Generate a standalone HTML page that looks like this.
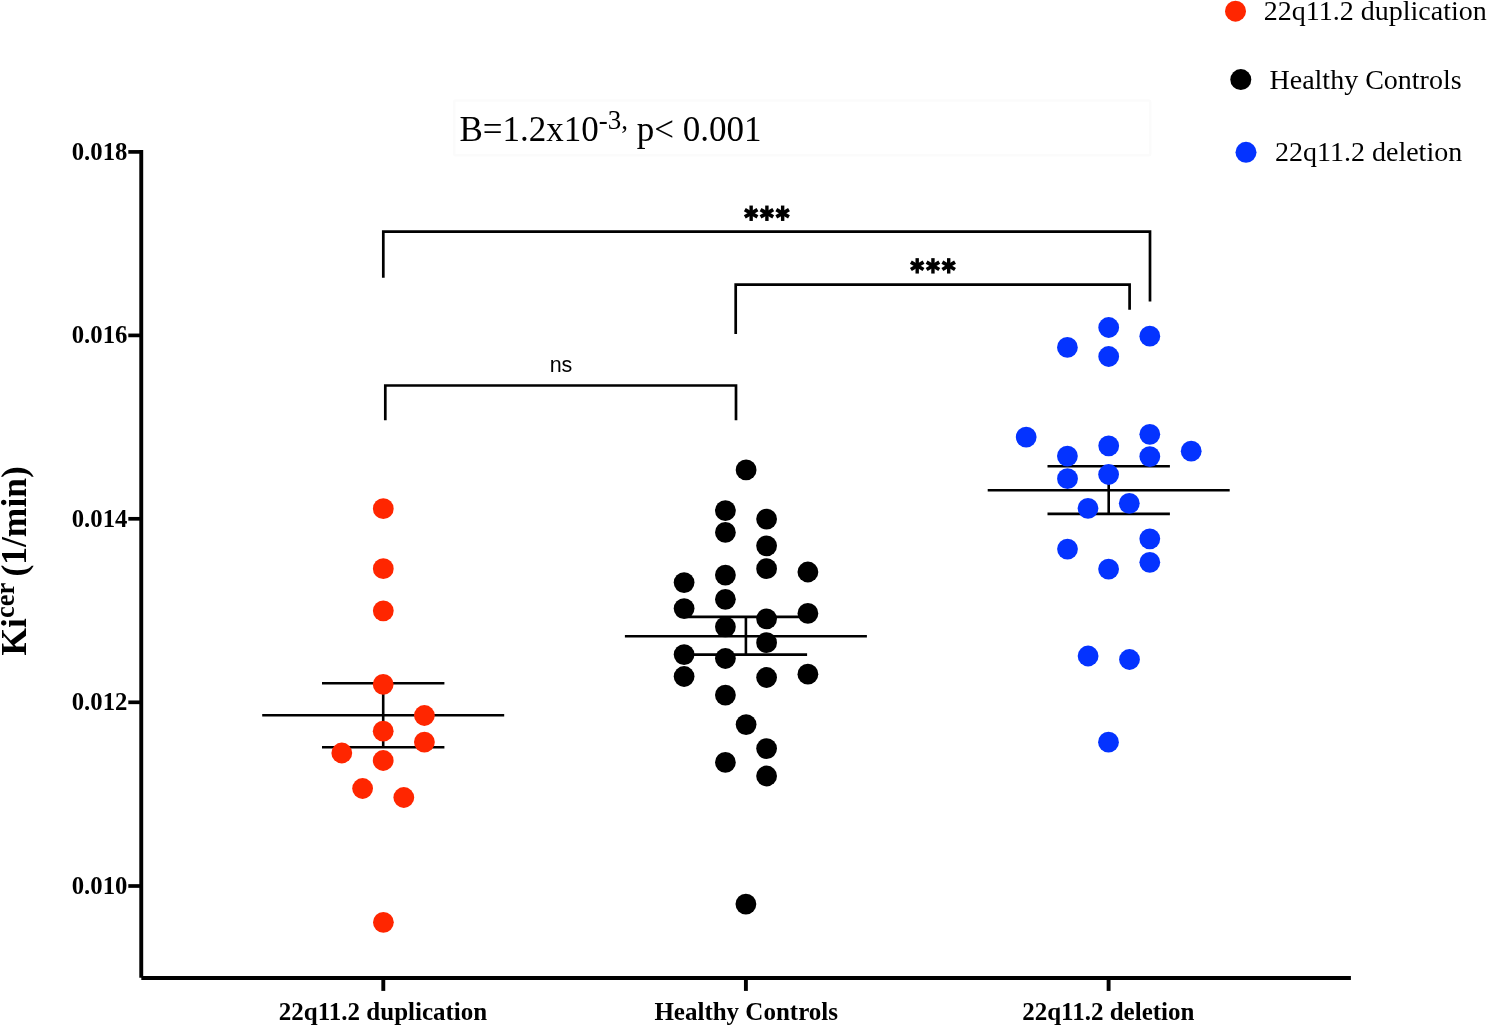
<!DOCTYPE html>
<html><head><meta charset="utf-8"><title>Ki cer chart</title>
<style>html,body{margin:0;padding:0;background:#fff;}body{width:1487px;height:1026px;overflow:hidden;}svg{display:block;will-change:transform;}</style>
</head><body>
<svg width="1487" height="1026" viewBox="0 0 1487 1026">
<rect x="454.2" y="100.6" width="696" height="54.6" fill="#fff" stroke="#fbfbfb" stroke-width="2.5" rx="1.5"/>
<g stroke="#000" stroke-width="3.9" fill="none">
<line x1="141.25" y1="150" x2="141.25" y2="977.7"/>
<line x1="141.3" y1="977.95" x2="1350.9" y2="977.95"/>
<line x1="128.3" y1="151.9" x2="141" y2="151.9" stroke-width="3.7"/>
<line x1="128.3" y1="335.4" x2="141" y2="335.4" stroke-width="3.7"/>
<line x1="128.3" y1="518.8" x2="141" y2="518.8" stroke-width="3.7"/>
<line x1="128.3" y1="702.3" x2="141" y2="702.3" stroke-width="3.7"/>
<line x1="128.3" y1="886.0" x2="141" y2="886.0" stroke-width="3.7"/>
<line x1="383.3" y1="978" x2="383.3" y2="990.9"/>
<line x1="745.9" y1="978" x2="745.9" y2="990.9"/>
<line x1="1108.6" y1="978" x2="1108.6" y2="990.9"/>
</g>
<g font-family="Liberation Serif" font-weight="bold" font-size="26.2" text-anchor="end" fill="#000">
<text transform="translate(127.4 159.6) scale(0.945 1)">0.018</text>
<text transform="translate(127.4 343.09999999999997) scale(0.945 1)">0.016</text>
<text transform="translate(127.4 526.5) scale(0.945 1)">0.014</text>
<text transform="translate(127.4 710.0) scale(0.945 1)">0.012</text>
<text transform="translate(127.4 893.7) scale(0.945 1)">0.010</text>
</g>
<g font-family="Liberation Serif" font-weight="bold" font-size="25" text-anchor="middle" fill="#000">
<text x="383" y="1020.4">22q11.2 duplication</text>
<text x="746.2" y="1020.4">Healthy Controls</text>
<text x="1108.3" y="1020.4">22q11.2 deletion</text>
</g>
<g transform="translate(26.1 655.5) rotate(-90)" font-family="Liberation Serif" font-weight="bold" fill="#000"><text x="0" y="0" font-size="35.5">Ki<tspan font-size="26.5" dy="-12.4">cer </tspan><tspan dy="12.4">(1/min)</tspan></text></g>
<text x="459.5" y="141.3" font-family="Liberation Serif" font-size="35" fill="#000">B=1.2x10<tspan font-size="27" dy="-12.1">-3,</tspan><tspan dy="12.1"> p&lt; 0.001</tspan></text>
<circle cx="1235.5" cy="11.2" r="10.5" fill="#FF2600"/>
<circle cx="1240.8" cy="79.6" r="10.5" fill="#000"/>
<circle cx="1246" cy="152.3" r="10.5" fill="#0433FF"/>
<g font-family="Liberation Serif" font-size="28" fill="#000">
<text x="1263.8" y="20.3">22q11.2 duplication</text>
<text x="1269.5" y="89.2">Healthy Controls</text>
<text x="1275" y="161.4">22q11.2 deletion</text>
</g>
<g stroke="#000" stroke-width="2.7" fill="none" stroke-linejoin="miter">
<polyline points="383.3,277.7 383.3,231.6 1150,231.6 1150,301.5"/>
<polyline points="735.7,334 735.7,284.7 1129.6,284.7 1129.6,309.7"/>
<polyline points="385.3,420.2 385.3,385.5 736,385.5 736,420.2"/>
</g>
<text x="561" y="372" font-family="Liberation Sans" font-size="21.5" text-anchor="middle" fill="#000">ns</text>
<g fill="#000"><rect x="749.4499999999999" y="205.55" width="3.4" height="15.4"/><rect x="743.85" y="211.4" width="14.6" height="3.7" transform="rotate(30 751.15 213.25)"/><rect x="743.85" y="211.4" width="14.6" height="3.7" transform="rotate(-30 751.15 213.25)"/><rect x="765.1999999999999" y="205.55" width="3.4" height="15.4"/><rect x="759.6" y="211.4" width="14.6" height="3.7" transform="rotate(30 766.9 213.25)"/><rect x="759.6" y="211.4" width="14.6" height="3.7" transform="rotate(-30 766.9 213.25)"/><rect x="780.9499999999999" y="205.55" width="3.4" height="15.4"/><rect x="775.35" y="211.4" width="14.6" height="3.7" transform="rotate(30 782.65 213.25)"/><rect x="775.35" y="211.4" width="14.6" height="3.7" transform="rotate(-30 782.65 213.25)"/><rect x="915.5" y="258.15000000000003" width="3.4" height="15.4"/><rect x="909.9000000000001" y="264.0" width="14.6" height="3.7" transform="rotate(30 917.2 265.85)"/><rect x="909.9000000000001" y="264.0" width="14.6" height="3.7" transform="rotate(-30 917.2 265.85)"/><rect x="931.25" y="258.15000000000003" width="3.4" height="15.4"/><rect x="925.6500000000001" y="264.0" width="14.6" height="3.7" transform="rotate(30 932.95 265.85)"/><rect x="925.6500000000001" y="264.0" width="14.6" height="3.7" transform="rotate(-30 932.95 265.85)"/><rect x="947.0" y="258.15000000000003" width="3.4" height="15.4"/><rect x="941.4000000000001" y="264.0" width="14.6" height="3.7" transform="rotate(30 948.7 265.85)"/><rect x="941.4000000000001" y="264.0" width="14.6" height="3.7" transform="rotate(-30 948.7 265.85)"/></g>
<line x1="262.2" y1="715.2" x2="504.2" y2="715.2" stroke="#000" stroke-width="2.6"/><line x1="322.0" y1="683.2" x2="444.4" y2="683.2" stroke="#000" stroke-width="2.6"/><line x1="322.0" y1="747.3" x2="444.4" y2="747.3" stroke="#000" stroke-width="2.6"/><line x1="383.2" y1="683.2" x2="383.2" y2="747.3" stroke="#000" stroke-width="2.6"/>
<line x1="624.9" y1="636.3" x2="866.9" y2="636.3" stroke="#000" stroke-width="2.6"/><line x1="684.6999999999999" y1="616.9" x2="807.1" y2="616.9" stroke="#000" stroke-width="2.6"/><line x1="684.6999999999999" y1="654.6" x2="807.1" y2="654.6" stroke="#000" stroke-width="2.6"/><line x1="745.9" y1="616.9" x2="745.9" y2="654.6" stroke="#000" stroke-width="2.6"/>
<line x1="987.7" y1="490.2" x2="1229.7" y2="490.2" stroke="#000" stroke-width="2.6"/><line x1="1047.5" y1="466.3" x2="1169.9" y2="466.3" stroke="#000" stroke-width="2.6"/><line x1="1047.5" y1="513.9" x2="1169.9" y2="513.9" stroke="#000" stroke-width="2.6"/><line x1="1108.7" y1="466.3" x2="1108.7" y2="513.9" stroke="#000" stroke-width="2.6"/>
<circle cx="383.3" cy="508.7" r="10.4" fill="#FF2600"/><circle cx="383.3" cy="568.7" r="10.4" fill="#FF2600"/><circle cx="383.3" cy="610.8" r="10.4" fill="#FF2600"/><circle cx="383.2" cy="684.3" r="10.4" fill="#FF2600"/><circle cx="424.4" cy="715.5" r="10.4" fill="#FF2600"/><circle cx="383.2" cy="731.2" r="10.4" fill="#FF2600"/><circle cx="424.4" cy="742.1" r="10.4" fill="#FF2600"/><circle cx="341.8" cy="753" r="10.4" fill="#FF2600"/><circle cx="383.2" cy="760.5" r="10.4" fill="#FF2600"/><circle cx="362.6" cy="788.5" r="10.4" fill="#FF2600"/><circle cx="403.8" cy="797.5" r="10.4" fill="#FF2600"/><circle cx="383.4" cy="922.3" r="10.4" fill="#FF2600"/>
<circle cx="746.1" cy="469.9" r="10.4" fill="#000"/><circle cx="725.4" cy="510.7" r="10.4" fill="#000"/><circle cx="725.4" cy="532.4" r="10.4" fill="#000"/><circle cx="766.6" cy="519.1" r="10.4" fill="#000"/><circle cx="766.6" cy="545.8" r="10.4" fill="#000"/><circle cx="766.6" cy="568.7" r="10.4" fill="#000"/><circle cx="807.9" cy="572" r="10.4" fill="#000"/><circle cx="684.1" cy="582.6" r="10.4" fill="#000"/><circle cx="725.4" cy="575.1" r="10.4" fill="#000"/><circle cx="725.4" cy="599.3" r="10.4" fill="#000"/><circle cx="684.1" cy="608.6" r="10.4" fill="#000"/><circle cx="807.9" cy="613.4" r="10.4" fill="#000"/><circle cx="766.6" cy="618.8" r="10.4" fill="#000"/><circle cx="725.4" cy="626.8" r="10.4" fill="#000"/><circle cx="766.6" cy="642.7" r="10.4" fill="#000"/><circle cx="684.1" cy="654.6" r="10.4" fill="#000"/><circle cx="725.4" cy="658.5" r="10.4" fill="#000"/><circle cx="684.1" cy="676.5" r="10.4" fill="#000"/><circle cx="766.6" cy="677.5" r="10.4" fill="#000"/><circle cx="807.9" cy="674.2" r="10.4" fill="#000"/><circle cx="725.4" cy="695.1" r="10.4" fill="#000"/><circle cx="746.1" cy="724.6" r="10.4" fill="#000"/><circle cx="766.6" cy="748.6" r="10.4" fill="#000"/><circle cx="725.4" cy="762.4" r="10.4" fill="#000"/><circle cx="766.6" cy="776" r="10.4" fill="#000"/><circle cx="745.9" cy="904.1" r="10.4" fill="#000"/>
<circle cx="1108.7" cy="327.5" r="10.4" fill="#0433FF"/><circle cx="1149.8" cy="336.2" r="10.4" fill="#0433FF"/><circle cx="1067.4" cy="347.4" r="10.4" fill="#0433FF"/><circle cx="1108.7" cy="356.5" r="10.4" fill="#0433FF"/><circle cx="1026.2" cy="437.1" r="10.4" fill="#0433FF"/><circle cx="1149.8" cy="434.3" r="10.4" fill="#0433FF"/><circle cx="1108.7" cy="445.8" r="10.4" fill="#0433FF"/><circle cx="1191.2" cy="451.2" r="10.4" fill="#0433FF"/><circle cx="1067.4" cy="456.1" r="10.4" fill="#0433FF"/><circle cx="1149.8" cy="456.6" r="10.4" fill="#0433FF"/><circle cx="1108.6" cy="474.5" r="10.4" fill="#0433FF"/><circle cx="1067.5" cy="478.7" r="10.4" fill="#0433FF"/><circle cx="1088" cy="508.3" r="10.4" fill="#0433FF"/><circle cx="1129.3" cy="503.3" r="10.4" fill="#0433FF"/><circle cx="1149.8" cy="538.8" r="10.4" fill="#0433FF"/><circle cx="1067.5" cy="549.1" r="10.4" fill="#0433FF"/><circle cx="1149.8" cy="562.3" r="10.4" fill="#0433FF"/><circle cx="1108.6" cy="569.1" r="10.4" fill="#0433FF"/><circle cx="1088.1" cy="656" r="10.4" fill="#0433FF"/><circle cx="1129.5" cy="659.5" r="10.4" fill="#0433FF"/><circle cx="1108.5" cy="742.2" r="10.4" fill="#0433FF"/>
</svg>
</body></html>
